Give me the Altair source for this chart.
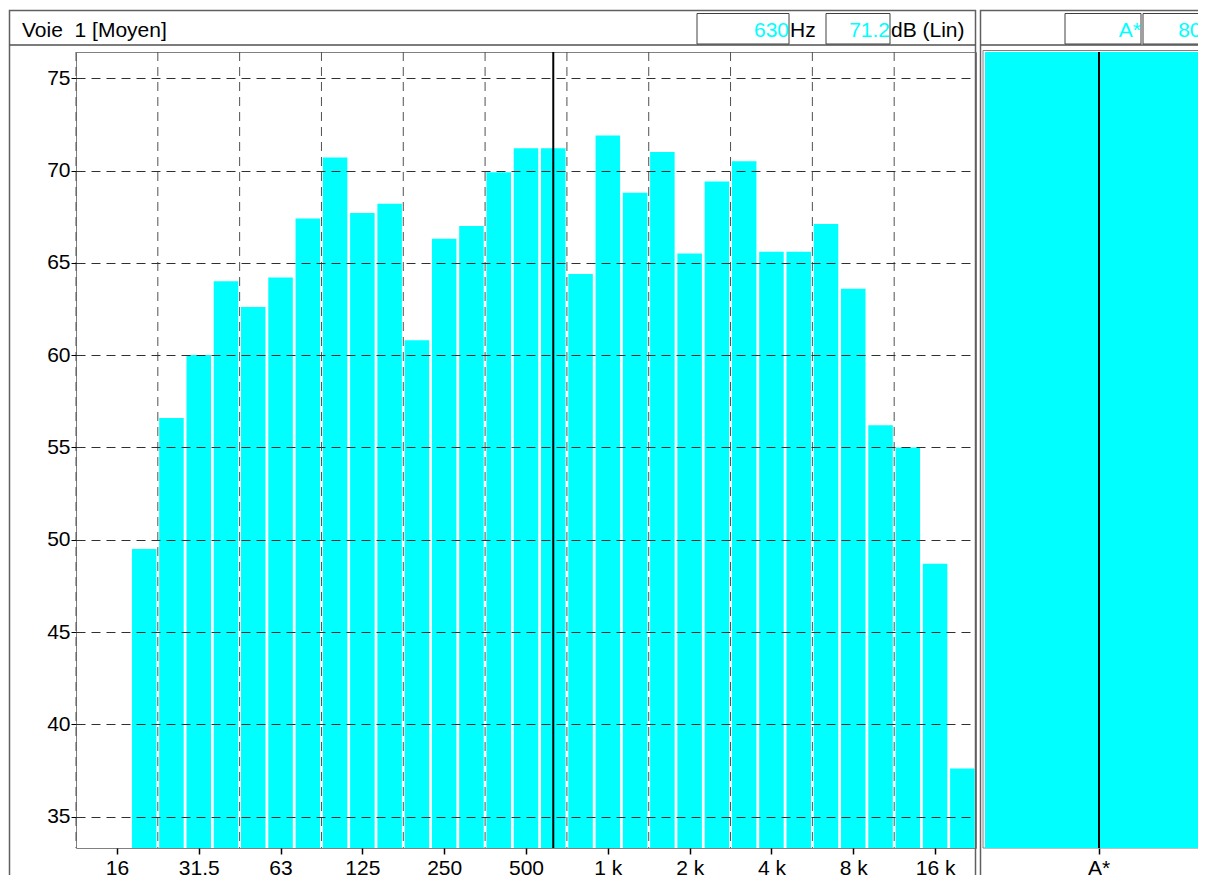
import altair as alt
import pandas as pd

# ---------------- data ----------------
BANDS = ["12.5", "16", "20", "25", "31.5", "40", "50", "63", "80", "100", "125",
         "160", "200", "250", "315", "400", "500", "630", "800", "1 k", "1.25 k",
         "1.6 k", "2 k", "2.5 k", "3.15 k", "4 k", "5 k", "6.3 k", "8 k", "10 k",
         "12.5 k", "16 k", "20 k"]
LEVELS = [None, None, 49.5, 56.6, 60.0, 64.0, 62.6, 64.2, 67.4, 70.7, 67.7,
          68.2, 60.8, 66.3, 67.0, 69.9, 71.2, 71.2, 64.4, 71.9, 68.8,
          71.0, 65.5, 69.4, 70.5, 65.6, 65.6, 67.1, 63.6, 56.2,
          55.0, 48.7, 37.6]
TICK_LABELS = ["16", "31.5", "63", "125", "250", "500", "1 k", "2 k", "4 k", "8 k", "16 k"]
Y_TICKS = [35, 40, 45, 50, 55, 60, 65, 70, 75]
Y_DOMAIN = [33.3, 76.42]
CURSOR_BAND = "630"
TOTAL_BANDS = ["A*"]
TOTAL_LEVELS = [80.4]
TITLE = "Voie\u00a0 1 [Moyen]"
UNIT_F = "Hz"
UNIT_L = "dB (Lin)"

# ---------------- styling ----------------
FONT = "Liberation Sans"
FS = 21
CYAN = "#00ffff"
W, H = 900, 796

bars_df = pd.DataFrame({"band": BANDS, "idx": list(range(len(BANDS))), "level": LEVELS}).dropna()
tick_idx = [BANDS.index(t) for t in TICK_LABELS]
grid_df = pd.DataFrame({"i": tick_idx})
cur_i = BANDS.index(CURSOR_BAND)
cursor_df = pd.DataFrame({"idx": [cur_i], "band": [CURSOR_BAND],
                          "val": ["%.1f" % LEVELS[cur_i]]})
tot_df = pd.DataFrame({"band": TOTAL_BANDS, "level": TOTAL_LEVELS,
                       "val": ["%.1f" % v for v in TOTAL_LEVELS]})
one = pd.DataFrame({"k": [0]})

xs = alt.Scale(domain=[-0.5, len(BANDS) - 0.5], nice=False, zero=False, padding=0)
ys = alt.Scale(domain=Y_DOMAIN, nice=False, zero=False, clamp=True, padding=0)

label_arr = "[" + ",".join("'%s'" % b for b in BANDS) + "][round(datum.value)]"

x_axis = alt.Axis(values=tick_idx, labelExpr=label_arr, title=None, grid=False,
                  domain=False, tickSize=6, tickColor="black", tickWidth=1.5,
                  labelFont=FONT, labelFontSize=FS, labelColor="black",
                  labelPadding=3, orient="bottom", labelFlush=False, labelOverlap=False)
y_axis = alt.Axis(values=Y_TICKS, title=None, grid=True, gridDash=[9, 6],
                  gridColor="#303030", gridWidth=1, domain=False, tickSize=5,
                  tickColor="black", labelFont=FONT, labelFontSize=FS,
                  labelColor="black", labelPadding=1, zindex=1)

bars = alt.Chart(bars_df).mark_bar(color=CYAN, width=24.5).encode(
    x=alt.X("idx:Q", scale=xs, axis=x_axis),
    y=alt.Y("level:Q", scale=ys, axis=y_axis),
    y2=alt.datum(Y_DOMAIN[0]),
)
vgrid = alt.Chart(grid_df).transform_calculate(b="datum.i - 1.5").mark_rule(
    color="#505050", strokeDash=[9, 6], strokeWidth=1).encode(
    x=alt.X("b:Q", scale=xs, axis=x_axis))
cursor = alt.Chart(cursor_df).mark_rule(color="black", strokeWidth=2).encode(
    x=alt.X("idx:Q", scale=xs, axis=x_axis))
main = alt.layer(bars, vgrid, cursor)

rx = alt.Scale(domain=TOTAL_BANDS, range=[909, 1137], paddingInner=0, paddingOuter=0)
r_axis = alt.Axis(title=None, grid=False, domain=False, tickSize=6, tickColor="black",
                  tickWidth=1.5, labelFont=FONT, labelFontSize=FS, labelColor="black",
                  labelPadding=3, orient="bottom", labelAngle=0, bandPosition=0.5)
rbar = alt.Chart(tot_df).mark_bar(color=CYAN).encode(
    x=alt.X("band:N", scale=rx, axis=r_axis),
    y=alt.Y("level:Q", scale=ys, axis=y_axis),
    y2=alt.datum(Y_DOMAIN[0]),
)
rline = alt.Chart(tot_df).mark_rule(color="black", strokeWidth=2).encode(
    x=alt.X("band:N", scale=rx, axis=r_axis, bandPosition=0.5))
right = alt.layer(rbar, rline)


# ---------------- decorations (frame & header) ----------------
def frame(x1, y1, x2, y2, stroke="#404040", sw=1.0, fill="white", fo=0.0):
    return alt.Chart(one).mark_rect(stroke=stroke, strokeWidth=sw, fill=fill,
                                    fillOpacity=fo).encode(
        x=alt.value(x1), x2=alt.value(x2), y=alt.value(y1), y2=alt.value(y2))


def hline(x1, x2, y, color="#404040", sw=1.0):
    return alt.Chart(one).mark_rule(color=color, strokeWidth=sw).encode(
        x=alt.value(x1), x2=alt.value(x2), y=alt.value(y))


def txt(df, field, x, y, align, color):
    return alt.Chart(df).mark_text(align=align, baseline="alphabetic", font=FONT,
                                   fontSize=FS, color=color).encode(
        x=alt.value(x), y=alt.value(y), text=alt.Text(field + ":N"))


title_df = pd.DataFrame({"t": [TITLE]})
uf_df = pd.DataFrame({"t": [UNIT_F]})
ul_df = pd.DataFrame({"t": [UNIT_L]})

deco = [
    frame(-66.5, -41.5, 899.5, 840, stroke="#606060", sw=1.5),
    hline(-66.5, 899.5, -7, color="#505050", sw=1.5),
    frame(904.5, -41.5, 1200, 840, stroke="#606060", sw=1.5),
    hline(904.5, 1200, -7, color="#505050", sw=1.5),
    frame(907, -1.5, 1200, 796, stroke="#808080", sw=1),
    frame(621, -38.5, 713, -8, fo=1),
    frame(750, -38.5, 814, -8, fo=1),
    frame(989, -38.5, 1065, -8, fo=1),
    frame(1067, -38.5, 1143, -8, fo=1),
]
texts = [
    txt(title_df, "t", -54, -15, "left", "black"),
    txt(cursor_df, "band", 713, -15, "right", CYAN),
    txt(uf_df, "t", 714, -15, "left", "black"),
    txt(cursor_df, "val", 814, -15, "right", CYAN),
    txt(ul_df, "t", 815, -15, "left", "black"),
    txt(tot_df, "band", 1065, -15, "right", CYAN),
    txt(tot_df, "val", 1143, -15, "right", CYAN),
]

chart = alt.layer(*deco, main, right, *texts).resolve_scale(x="independent").properties(
    width=W, height=H,
    padding={"left": 68, "top": 44, "right": 222, "bottom": 27},
    autosize=alt.AutoSizeParams(type="none"),
    background="white",
).configure_view(stroke="#808080", strokeWidth=1)

chart.save("out.html", embed_options={"renderer": "svg", "actions": False})
